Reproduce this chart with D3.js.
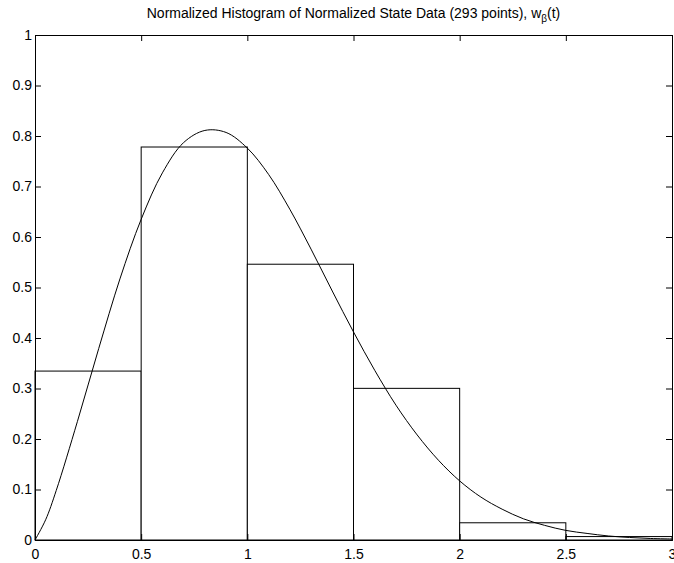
<!DOCTYPE html>
<html>
<head>
<meta charset="utf-8">
<script src="https://cdn.jsdelivr.net/npm/d3@7"></script>
<style>
  body { margin: 0; background: #fff; }
  svg { display: block; font-family: "Liberation Sans", Arial, Helvetica, sans-serif; }
  .axis path, .axis line { stroke: #000; }
  .axis text { fill: #000; font-size: 14px; font-family: "Liberation Sans", Arial, Helvetica, sans-serif; }
</style>
</head>
<body>
<div class="chart"></div>
<script>
// histogram bins (left edge, right edge) and normalized heights
var binStart = [0, 0.5, 1, 1.5, 2, 2.5]
var binEnd = [0.5, 1, 1.5, 2, 2.5, 3]
var binHeight = [0.3345, 0.7782, 0.5461, 0.3003, 0.0341, 0.0068]

// w_beta(t) curve
var curveT = [0, 0.05, 0.1, 0.2, 0.3, 0.4, 0.5, 0.6, 0.7, 0.8, 0.9, 1.0, 1.1, 1.2, 1.3, 1.4, 1.5,
  1.6, 1.7, 1.8, 1.9, 2.0, 2.1, 2.2, 2.3, 2.4, 2.5, 2.6, 2.7, 2.8, 2.9, 3.0]
var curveW = [0, 0.040, 0.098, 0.235, 0.379, 0.517, 0.635, 0.727, 0.787, 0.811, 0.807, 0.776, 0.724,
  0.655, 0.576, 0.493, 0.412, 0.336, 0.267, 0.208, 0.158, 0.117, 0.085, 0.061, 0.042, 0.029,
  0.019, 0.013, 0.008, 0.005, 0.003, 0.002]

var xTicks = [0, 0.5, 1, 1.5, 2, 2.5, 3]
var yTicks = [0, 0.1, 0.2, 0.3, 0.4, 0.5, 0.6, 0.7, 0.8, 0.9, 1]

var margin = {top: 35, right: 2, bottom: 23, left: 35}
var width = 674 - margin.left - margin.right
var height = 563 - margin.top - margin.bottom

var x = d3.scaleLinear().domain([0, 3]).range([0, width])
var y = d3.scaleLinear().domain([0, 1]).range([height, 0])

var svg = d3
  .select('.chart')
  .append('svg')
  .attr('width', 674)
  .attr('height', 563)

var g = svg.append('g')
  .attr('transform', 'translate(' + margin.left + ',' + margin.top + ')')

// bars
g.selectAll('.bar')
  .data(binHeight)
  .enter()
  .append('rect')
  .attr('class', 'bar')
  .attr('x', function(d, i) { return x(binStart[i]) })
  .attr('width', function(d, i) { return x(binEnd[i]) - x(binStart[i]) })
  .attr('y', function(d) { return y(d) })
  .attr('height', function(d) { return y(0) - y(d) })
  .style('fill', '#fff')
  .style('stroke', '#000')
  .style('stroke-width', 1)

// curve
var line = d3.line()
  .curve(d3.curveCatmullRom)
  .x(function(d, i) { return x(curveT[i]) })
  .y(function(d) { return y(d) })

g.append('path')
  .datum(curveW)
  .attr('d', line)
  .style('fill', 'none')
  .style('stroke', '#000')
  .style('stroke-width', 1)

// axes, ticks pointing inward
g.append('g')
  .attr('class', 'axis')
  .attr('transform', 'translate(0,' + height + ')')
  .call(d3.axisBottom(x).tickValues(xTicks).tickFormat(d3.format('')).tickSize(-6).tickPadding(9))
g.append('g')
  .attr('class', 'axis')
  .call(d3.axisTop(x).tickValues(xTicks).tickFormat('').tickSize(-6))
g.append('g')
  .attr('class', 'axis')
  .call(d3.axisLeft(y).tickValues(yTicks).tickFormat(d3.format('')).tickSize(-6).tickPadding(3))
g.append('g')
  .attr('class', 'axis')
  .attr('transform', 'translate(' + width + ',0)')
  .call(d3.axisRight(y).tickValues(yTicks).tickFormat('').tickSize(-6))

// title
var title = svg.append('text')
  .attr('x', margin.left + width / 2)
  .attr('y', 17.5)
  .attr('text-anchor', 'middle')
  .style('font-size', '14px')
  .text('Normalized Histogram of Normalized State Data (293 points), w')
title.append('tspan')
  .attr('dy', 4)
  .style('font-size', '10px')
  .text('β')
title.append('tspan')
  .attr('dy', -4)
  .text('(t)')
</script>
</body>
</html>
